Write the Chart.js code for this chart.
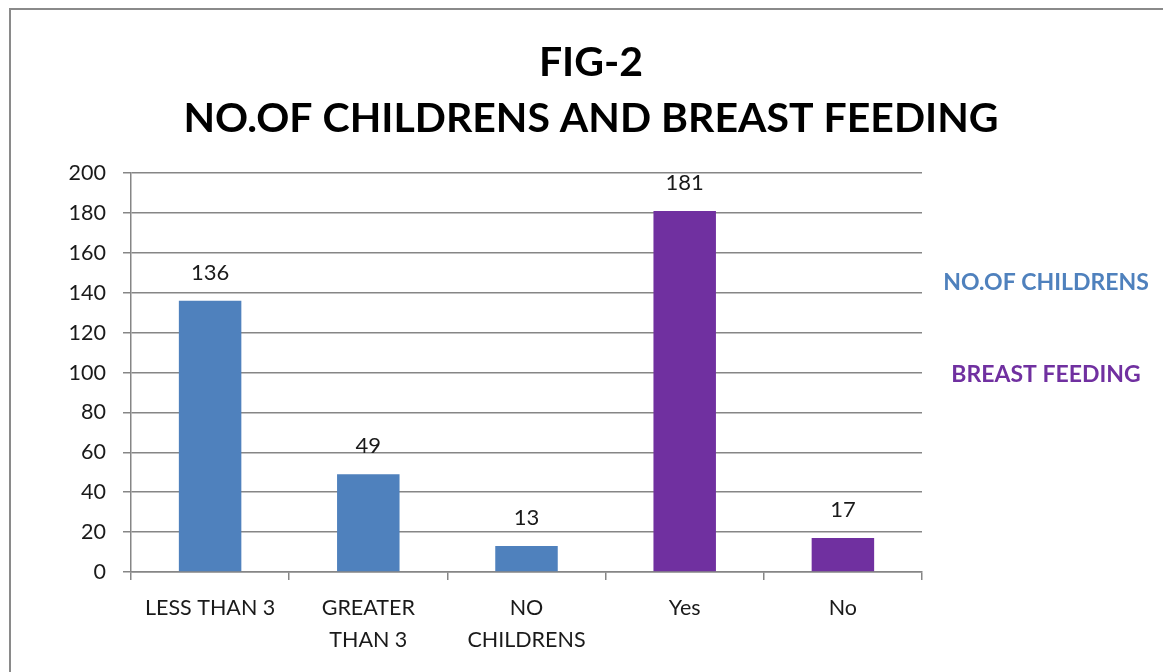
<!DOCTYPE html>
<html>
<head>
<meta charset="utf-8">
<script src="https://cdn.jsdelivr.net/npm/chart.js@4"></script>
<style>
  html, body { margin: 0; padding: 0; background: #fff; overflow: hidden; }
  #frame { position: absolute; left: 9px; top: 8px; width: 1200px; height: 700px; border: 2px solid #8a8a8a; }
  #box { position: absolute; left: 0; top: 0; width: 1150px; height: 662px; }
</style>
</head>
<body>
<div id="frame"><div id="box"><canvas id="fig2"></canvas></div></div>
<script>
// values
const categories = [['LESS THAN 3'], ['GREATER', 'THAN 3'], ['NO', 'CHILDRENS'], 'Yes', 'No'];
const counts = [136, 49, 13, 181, 17];
const groupOf = [0, 0, 0, 1, 1];
const seriesNames = ['NO.OF CHILDRENS', 'BREAST FEEDING'];
const seriesColors = ['#4F81BD', '#7030A0'];
const titleLines = ['FIG-2', 'NO.OF CHILDRENS AND BREAST FEEDING'];
const yMin = 0, yMax = 200, yStep = 20;

const FONT = 'Lato, "Open Sans", sans-serif';
const grid = '#868686';

// value above each bar, positioned from the bar element itself
const valueLabels = {
  id: 'valueLabels',
  afterDatasetsDraw(chart) {
    const ctx = chart.ctx;
    const meta = chart.getDatasetMeta(0);
    ctx.save();
    ctx.font = '22px ' + FONT;
    ctx.fillStyle = '#1a1a1a';
    ctx.textAlign = 'center';
    ctx.textBaseline = 'middle';
    meta.data.forEach((bar, i) => ctx.fillText(String(counts[i]), bar.x, bar.y - 28));
    ctx.restore();
  },
};

// text-only legend to the right of the plot, like the Excel original
const sideLegend = {
  id: 'sideLegend',
  afterDraw(chart) {
    const { ctx, chartArea: a } = chart;
    const h = a.bottom - a.top;
    const rows = [0.275, 0.505];
    ctx.save();
    ctx.font = 'bold 23px ' + FONT;
    ctx.textAlign = 'center';
    ctx.textBaseline = 'middle';
    seriesNames.forEach((name, i) => {
      ctx.fillStyle = seriesColors[i];
      ctx.fillText(name, a.right + 124, a.top + h * rows[i]);
    });
    ctx.restore();
  },
};

new Chart(document.getElementById('fig2'), {
  type: 'bar',
  data: {
    labels: categories,
    datasets: [{
      label: 'count',
      data: counts,
      backgroundColor: groupOf.map((g) => seriesColors[g]),
      categoryPercentage: 1,
      barPercentage: 0.395,
    }],
  },
  options: {
    responsive: true, maintainAspectRatio: false, animation: false,
    layout: { padding: { left: 10, right: 0, top: 0, bottom: 10 } },
    plugins: {
      legend: { display: false },
      tooltip: { enabled: false },
      title: {
        display: true, text: titleLines, color: '#000',
        font: { family: FONT, size: 41, weight: 'bold', lineHeight: 1.38 },
        padding: { top: 24, bottom: 26 },
      },
    },
    scales: {
      x: {
        grid: { drawOnChartArea: false, drawTicks: true, tickLength: 8, color: grid, lineWidth: 1.5 },
        border: { color: grid, width: 1.5 },
        ticks: { color: '#1a1a1a', font: { family: FONT, size: 21.5, lineHeight: 1.48 }, padding: 12, maxRotation: 0 },
        afterFit: (s) => { s.height = 90; },
      },
      y: {
        min: yMin, max: yMax,
        grid: { color: grid, lineWidth: 1.5, tickLength: 8 },
        border: { color: grid, width: 1.5 },
        ticks: { stepSize: yStep, color: '#1a1a1a', font: { family: FONT, size: 21.5 }, padding: 17 },
        afterFit: (s) => { s.width = 110; },
      },
      // empty right-hand axis: only reserves room for the text legend
      side: {
        position: 'right', min: yMin, max: yMax,
        grid: { display: false }, border: { display: false },
        ticks: { display: false },
        afterFit: (s) => { s.width = 239; },
      },
    },
  },
  plugins: [valueLabels, sideLegend],
});
</script>
</body>
</html>
